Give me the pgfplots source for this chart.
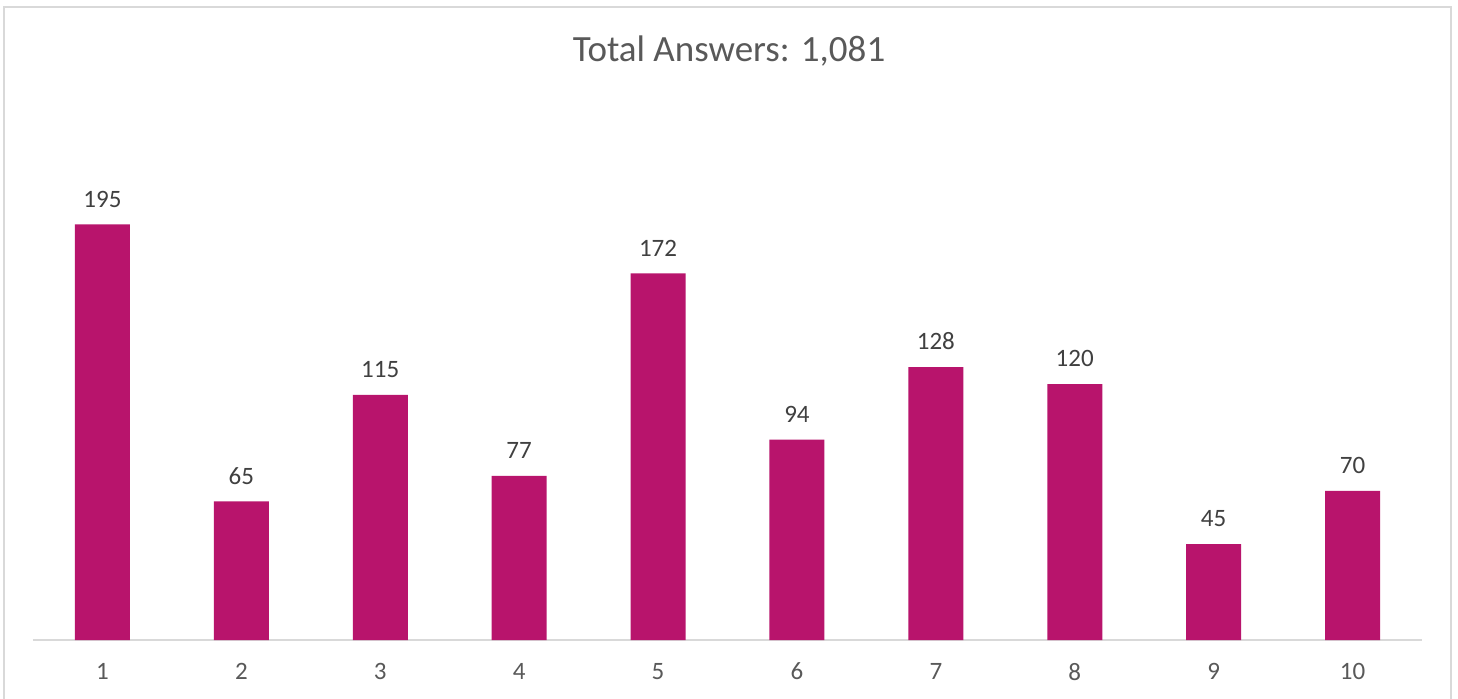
\documentclass[border=0pt]{standalone}
\usepackage{pgfplots}
\pgfplotsset{compat=1.18}
\usepackage{fontspec}
\setmainfont{Carlito}
\definecolor{barc}{HTML}{B8146C}
\definecolor{txt}{HTML}{595959}
\definecolor{lbl}{HTML}{404040}
\definecolor{gridc}{HTML}{D9D9D9}
\begin{document}
\begin{tikzpicture}
\useasboundingbox (0,0) rectangle (729pt,349pt);
\fill[white] (0,0) rectangle (729pt,349pt);
\draw[gridc, line width=1pt] (2pt,-2pt) -- (2pt,345.5pt) -- (725.5pt,345.5pt) -- (725.5pt,-2pt);
\node[txt, font=\fontsize{18.5}{20}\selectfont] at (364.5pt,323.5pt) {Total Answers: 1,081};
\begin{axis}[
  at={(16.5pt,29pt)}, anchor=south west,
  width=694.5pt, height=266.5pt, scale only axis,
  ymin=0, ymax=250, xmin=0.5, xmax=10.5,
  axis y line=none, axis x line=bottom,
  x axis line style={gridc, line width=1pt, -},
  xtick=data, major tick length=0pt,
  ybar, bar width=27.5pt,
  /pgf/number format/assume math mode=true,
  xticklabel style={text=txt, font=\fontsize{12.5}{14}\selectfont, yshift=-8pt},
  nodes near coords,
  every node near coord/.append style={text=lbl, font=\fontsize{12.5}{14}\selectfont, yshift=5pt},
  clip=false,
]
\addplot[fill=barc, draw=none] coordinates {
(1,195) (2,65) (3,115) (4,77) (5,172) (6,94) (7,128) (8,120) (9,45) (10,70)
};
\end{axis}
\end{tikzpicture}
\end{document}
